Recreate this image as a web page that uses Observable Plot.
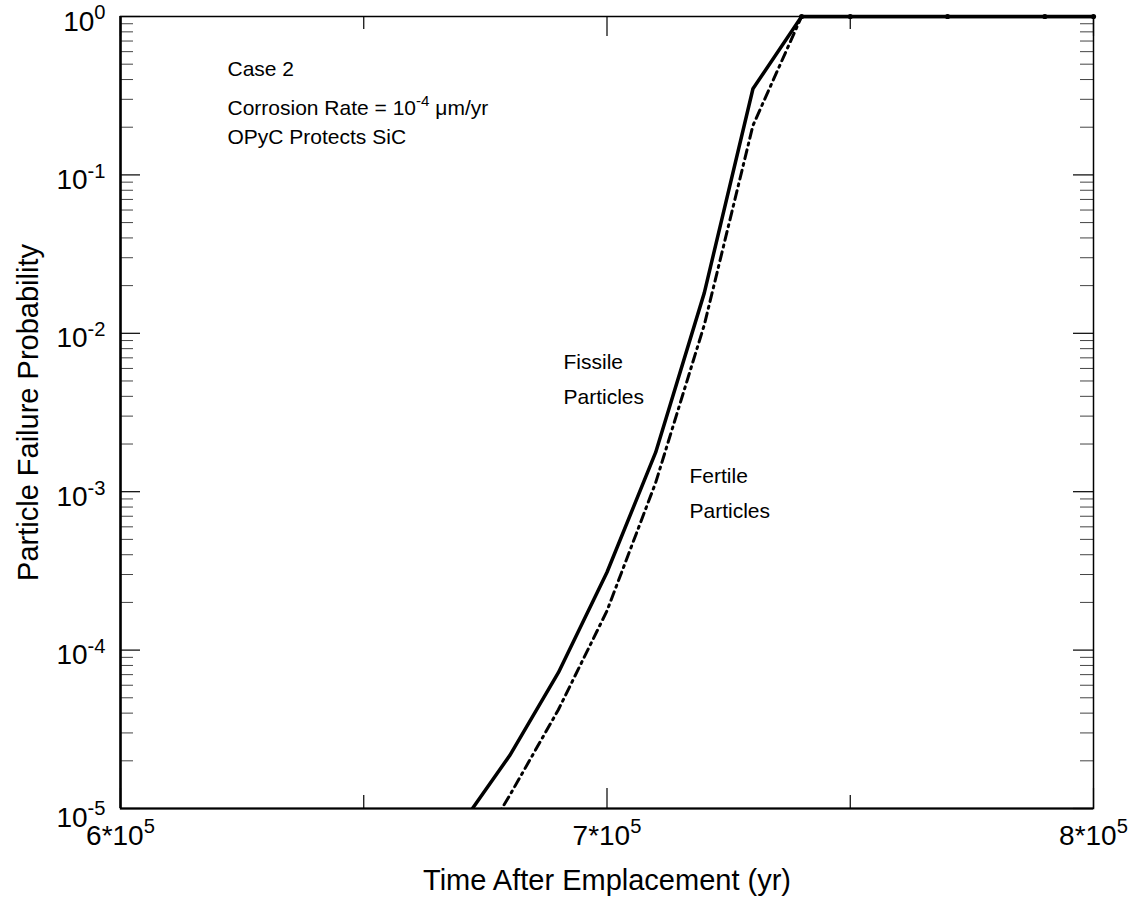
<!DOCTYPE html>
<html>
<head>
<meta charset="utf-8">
<script src="https://cdn.jsdelivr.net/npm/d3@7"></script>
<script src="https://cdn.jsdelivr.net/npm/@observablehq/plot@0.6"></script>
<style>
  body { margin: 0; background: #fff; }
</style>
</head>
<body>
<div id="chart"></div>
<script>
// Failure probability of coated fuel particles over time (Case 2).
const years   = [670000, 680000, 690000, 700000, 710000, 720000, 730000, 740000, 750000, 770000, 790000, 800000];
const fissile = [7.9e-6, 2.16e-5, 7.2e-5, 3.1e-4, 1.77e-3, 1.8e-2, 0.35, 1, 1, 1, 1, 1];
const fertile = [3.7e-6, 1.21e-5, 4.2e-5, 1.77e-4, 1.14e-3, 1.13e-2, 0.205, 1, 1, 1, 1, 1];

// Axis ticks and their labels ("^{...}" marks a superscript)
const xMajor = [600000, 700000, 800000];
const xMinor = [650000, 750000];
const xTickLabels = ["6*10^{5}", "7*10^{5}", "8*10^{5}"];
const yMajor = [1e-5, 1e-4, 1e-3, 1e-2, 1e-1, 1];
const yMinorSteps = [2, 3, 4, 5, 6, 7, 8, 9];
const yTickLabels = ["10^{-5}", "10^{-4}", "10^{-3}", "10^{-2}", "10^{-1}", "10^{0}"];

const xTitle = "Time After Emplacement (yr)";
const yTitle = "Particle Failure Probability";
const notes = ["Case 2", "Corrosion Rate = 10^{-4} \u03BCm/yr", "OPyC Protects SiC"];
const curveNames = ["Fissile\nParticles", "Fertile\nParticles"];

// Layout
const W = 1138, H = 906;
const M = {top: 16, right: 45, bottom: 98, left: 120};
const plotW = W - M.left - M.right;
const plotH = H - M.top - M.bottom;
const FONT = "'Liberation Sans', Arial, Helvetica, sans-serif";

const yMinor = yMajor.slice(0, -1).flatMap(d => yMinorSteps.map(k => k * d));
const fissileData = years.map((x, i) => ({x, p: fissile[i]}));
const fertileData = years.map((x, i) => ({x, p: fertile[i]}));
const saturated = fissileData.filter(d => d.p >= 1);
const xTicks = xMajor.map((v, i) => ({v, label: xTickLabels[i]}));
const yTicks = yMajor.map((v, i) => ({v, label: yTickLabels[i]}));

const chart = Plot.plot({
  width: W,
  height: H,
  marginTop: M.top,
  marginRight: M.right,
  marginBottom: M.bottom,
  marginLeft: M.left,
  style: {fontFamily: FONT, background: "white", color: "black"},
  x: {type: "linear", domain: [600000, 800000], axis: null},
  y: {type: "log", domain: [1e-5, 1], axis: null},
  marks: [
    // inward ticks on all four sides
    Plot.tickY(yMajor, {y: d => d, insetRight: plotW - 20, strokeWidth: 1.2}),
    Plot.tickY(yMinor, {y: d => d, insetRight: plotW - 13, strokeWidth: 1, stroke: "#444"}),
    Plot.tickY(yMajor, {y: d => d, insetLeft: plotW - 20, strokeWidth: 1.2}),
    Plot.tickY(yMinor, {y: d => d, insetLeft: plotW - 13, strokeWidth: 1, stroke: "#444"}),
    Plot.tickX(xMajor, {x: d => d, insetTop: plotH - 20, strokeWidth: 1.2}),
    Plot.tickX(xMinor, {x: d => d, insetTop: plotH - 13, strokeWidth: 1.2}),
    Plot.tickX(xMajor, {x: d => d, insetBottom: plotH - 20, strokeWidth: 1.2}),
    Plot.tickX(xMinor, {x: d => d, insetBottom: plotH - 13, strokeWidth: 1.2}),

    // frame, with heavier left and bottom axes
    Plot.frame({stroke: "black", strokeWidth: 1.5}),
    Plot.ruleX([600000], {strokeWidth: 2.5}),
    Plot.ruleY([1e-5], {strokeWidth: 2.2}),

    // curves (clipped to the frame where they fall below 1e-5)
    Plot.line(fissileData, {x: "x", y: "p", stroke: "black", strokeWidth: 3.5, clip: true}),
    Plot.line(fertileData, {x: "x", y: "p", stroke: "black", strokeWidth: 3, strokeDasharray: "9,5,2,5", clip: true}),
    Plot.line(saturated, {x: "x", y: "p", stroke: "black", strokeWidth: 3.5}),
    Plot.dot(saturated, {x: "x", y: "p", r: 2.6, fill: "black"}),

    // tick labels
    Plot.text(xTicks, {x: "v", text: "label", frameAnchor: "bottom", lineAnchor: "bottom", dy: 36, fontSize: 28}),
    Plot.text(yTicks.filter(d => d.v > 1e-5), {y: "v", text: "label", frameAnchor: "left", textAnchor: "end", lineAnchor: "bottom", dx: -15, dy: 14, fontSize: 28}),
    Plot.text(yTicks.filter(d => d.v <= 1e-5), {y: "v", text: "label", frameAnchor: "left", textAnchor: "end", lineAnchor: "bottom", dx: -15, dy: 18, fontSize: 28}),

    // axis titles
    Plot.text([xTitle], {frameAnchor: "bottom", textAnchor: "middle", lineAnchor: "bottom", dy: 81, fontSize: 29}),
    Plot.text([yTitle], {frameAnchor: "left", textAnchor: "middle", rotate: -90, dx: -92, fontSize: 29}),

    // annotations
    Plot.text([notes[0]], {frameAnchor: "top-left", textAnchor: "start", lineAnchor: "bottom", dx: 107, dy: 59, fontSize: 21}),
    Plot.text([notes[1]], {frameAnchor: "top-left", textAnchor: "start", lineAnchor: "bottom", dx: 107, dy: 98, fontSize: 21}),
    Plot.text([notes[2]], {frameAnchor: "top-left", textAnchor: "start", lineAnchor: "bottom", dx: 107, dy: 127, fontSize: 21}),
    Plot.text([curveNames[0]], {frameAnchor: "top-left", textAnchor: "start", lineAnchor: "bottom", lineHeight: 1.667, dx: 443, dy: 387, fontSize: 21}),
    Plot.text([curveNames[1]], {frameAnchor: "top-left", textAnchor: "start", lineAnchor: "bottom", lineHeight: 1.667, dx: 569, dy: 501, fontSize: 21})
  ]
});

document.getElementById("chart").appendChild(chart);

// Turn "^{...}" into raised, smaller tspans.
d3.select(chart).selectAll("text").each(function () {
  if (this.querySelector("tspan")) return;
  const s = this.textContent;
  if (!s.includes("^{")) return;
  const size = parseFloat(getComputedStyle(this).fontSize);
  const rise = size * 0.4;
  const parts = s.split(/\^\{([^}]*)\}/);
  this.textContent = "";
  let raised = false;
  parts.forEach((part, i) => {
    if (!part) return;
    const t = document.createElementNS("http://www.w3.org/2000/svg", "tspan");
    t.textContent = part;
    if (i % 2 === 1) {
      t.setAttribute("font-size", size * 0.72);
      t.setAttribute("dy", -rise);
      raised = true;
    } else if (raised) {
      t.setAttribute("dy", rise);
      raised = false;
    }
    this.appendChild(t);
  });
});
</script>
</body>
</html>
